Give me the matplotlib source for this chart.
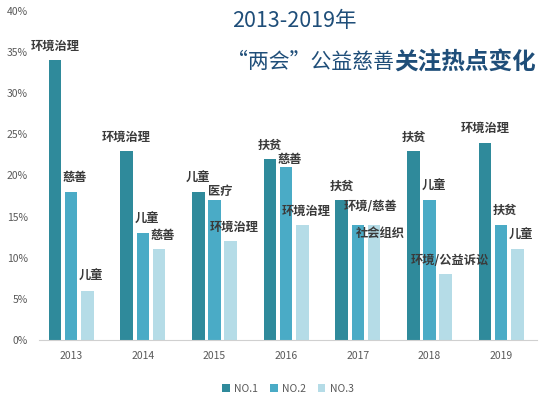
import numpy as np
import matplotlib
matplotlib.use('Agg')
import matplotlib.pyplot as plt
from matplotlib.ticker import PercentFormatter

plt.rcParams['font.family'] = ['Noto Sans CJK SC', 'DejaVu Sans']

# 数据
years = ['2013', '2014', '2015', '2016', '2017', '2018', '2019']
series_names = ['NO.1', 'NO.2', 'NO.3']
no1 = [34, 23, 18, 22, 17, 23, 24]
no2 = [18, 13, 17, 21, 14, 17, 14]
no3 = [6, 11, 12, 14, 14, 8, 11]
no1_labels = ['环境治理', '环境治理', '儿童', '扶贫', '扶贫', '扶贫', '环境治理']
no2_labels = ['慈善', '儿童', '医疗', '慈善', '环境/慈善', '儿童', '扶贫']
no3_labels = ['儿童', '慈善', '环境治理', '环境治理', '社会组织', '环境/公益诉讼', '儿童']

colors = ['#2f8a9b', '#4aabc6', '#b5dce7']

# 个别标签的位置微调 (像素)
label_shift = {
    (1, 2): (6, 9),     # 医疗
    (1, 3): (4, 8),     # 慈善 2016
    (1, 4): (13, 18),   # 环境/慈善
    (2, 4): (6, -9),    # 社会组织
}

fig = plt.figure(figsize=(5.48, 3.97), dpi=100)
ax = fig.add_axes([0.071, 0.144, 0.909, 0.828])

x = np.arange(len(years))
w = 0.175
offs = [-0.225, 0, 0.225]
all_vals = [no1, no2, no3]
all_labels = [no1_labels, no2_labels, no3_labels]

for k in range(3):
    bars = ax.bar(x + offs[k], all_vals[k], width=w, color=colors[k], label=series_names[k])
    for i, b in enumerate(bars):
        dx, dy = label_shift.get((k, i), (4 if k > 0 else 0, 14))
        ax.annotate(all_labels[k][i], (b.get_x() + b.get_width() / 2, b.get_height()),
                    xytext=(dx, dy), textcoords='offset pixels',
                    ha='center', va='center', fontsize=8.8, fontweight='bold',
                    color='#3a3a3a')

ax.set_xlim(-0.45, 6.5)
ax.set_ylim(0, 40)
ax.set_yticks(range(0, 41, 5))
ax.yaxis.set_major_formatter(PercentFormatter(decimals=0))
ax.set_xticks(x)
ax.set_xticklabels(years)
ax.tick_params(axis='both', length=0, labelsize=7.5, labelcolor='#595959')
ax.tick_params(axis='x', pad=8)
ax.tick_params(axis='y', pad=8)
for s in ['top', 'right', 'left']:
    ax.spines[s].set_visible(False)
ax.spines['bottom'].set_color('#d0d0d0')

# 标题
fig.text(0.538, 0.947, '2013-2019年', ha='center', va='center', fontsize=15.5, color='#1f4e79')
fig.text(0.719, 0.844, '“两会”公益慈善', ha='right', va='center', fontsize=15, color='#1f4e79')
fig.text(0.719, 0.844, '关注热点变化', ha='left', va='center', fontsize=17, fontweight='bold', color='#1f4e79')

ax.legend(loc='upper center', bbox_to_anchor=(0.5, -0.105), ncol=3, frameon=False,
          fontsize=7.5, handlelength=0.7, handleheight=0.7, handletextpad=0.4,
          columnspacing=1.2, labelcolor='#595959')

fig.savefig('out.png', dpi=100)
